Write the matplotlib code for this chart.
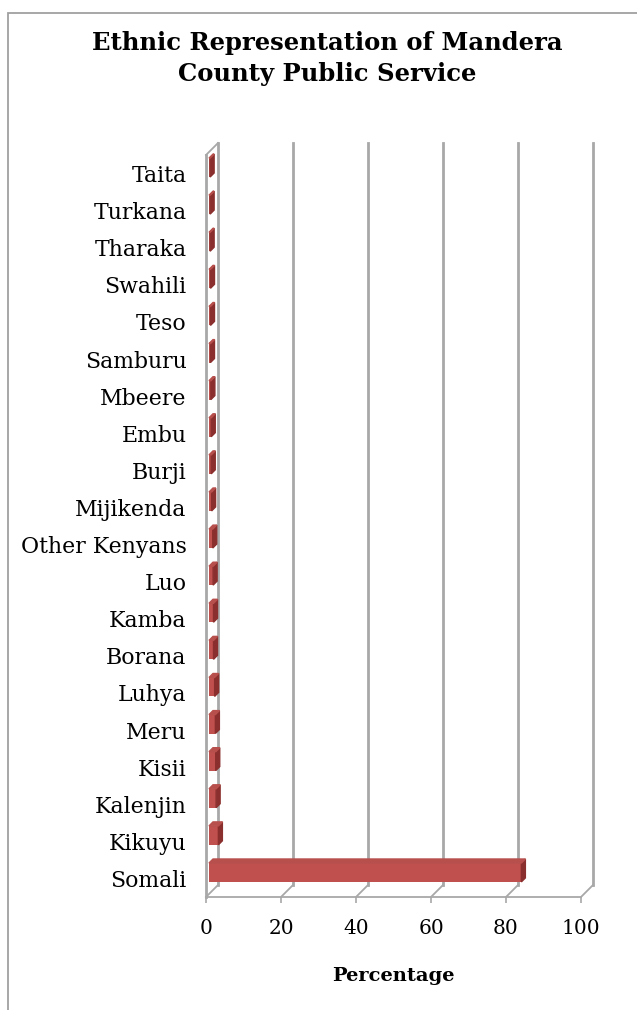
import numpy as np
import matplotlib
matplotlib.use("Agg")
import matplotlib.pyplot as plt
from matplotlib.patches import Polygon, Rectangle

# Data (percent of county public service staff), bottom to top
groups = ["Somali", "Kikuyu", "Kalenjin", "Kisii", "Meru", "Luhya", "Borana",
          "Kamba", "Luo", "Other Kenyans", "Mijikenda", "Burji", "Embu",
          "Mbeere", "Samburu", "Teso", "Swahili", "Tharaka", "Turkana", "Taita"]
share = [83.3, 2.5, 1.9, 1.8, 1.7, 1.5, 1.2, 1.2, 1.1, 1.0,
         0.7, 0.6, 0.6, 0.5, 0.4, 0.4, 0.4, 0.3, 0.3, 0.3]
x_ticks = [0, 20, 40, 60, 80, 100]

W, H, DPI = 637, 1010, 100
plt.rcParams['font.family'] = ['DejaVu Serif']

fig = plt.figure(figsize=(W / DPI, H / DPI), dpi=DPI)

# front plane of the 3D box in pixels
left_px, right_px, top_px, floor_px = 206, 581, 155, 897
ax = fig.add_axes([left_px / W, 1 - floor_px / H,
                   (right_px - left_px) / W, (floor_px - top_px) / H])
ax.set_xlim(0, 100)
ax.set_ylim(-0.5, len(groups) - 0.5)
for s in ax.spines.values():
    s.set_visible(False)

# pixel -> data unit helpers
ux = 100 / (right_px - left_px)
uy = len(groups) / (floor_px - top_px)

def dx(px):
    return px * ux

def dy(px):
    return px * uy

grid_col = "#A8A8A8"
depth = 12  # depth of the floor / wall in pixels
y0, y1 = -0.5, len(groups) - 0.5

# back wall gridlines + floor diagonals
for t in x_ticks:
    ax.plot([t + dx(depth)] * 2, [y0 + dy(depth), y1 + dy(depth)],
            color=grid_col, lw=2.0, clip_on=False, zorder=1)
    ax.plot([t, t + dx(depth)], [y0, y0 + dy(depth)],
            color=grid_col, lw=1.3, clip_on=False, zorder=1)

# left side wall
ax.plot([0, 0], [y0, y1], color=grid_col, lw=2.0, clip_on=False, zorder=1)
ax.plot([0, dx(depth)], [y1, y1 + dy(depth)], color=grid_col, lw=1.3,
        clip_on=False, zorder=1)
# front floor edge
ax.plot([0, 100], [y0, y0], color=grid_col, lw=1.3, clip_on=False, zorder=1)

# bars with a fake 3D look
pos = np.arange(len(groups))
bar_h = 0.51
ox, oy = dx(3), dy(6)
sx, sy = dx(4), dy(4)
front_col, side_col, top_col = "#C0504D", "#8A2F2D", "#B7504D"
ax.barh(pos + oy, share, left=ox, height=bar_h, color=front_col,
        zorder=3, clip_on=False)
for p, v in zip(pos, share):
    yb = p + oy - bar_h / 2
    yt = p + oy + bar_h / 2
    x1 = ox + v
    ax.add_patch(Polygon([(x1, yb), (x1, yt), (x1 + sx, yt + sy), (x1 + sx, yb + sy)],
                         closed=True, color=side_col, zorder=3, clip_on=False))
    ax.add_patch(Polygon([(ox, yt), (x1, yt), (x1 + sx, yt + sy), (ox + sx, yt + sy)],
                         closed=True, color=top_col, zorder=3, clip_on=False))

# axis labels
ax.set_yticks(pos)
ax.set_yticklabels(groups, fontsize=15.8)
ax.tick_params(axis='y', length=0, pad=14)
ax.set_xticks(x_ticks)
ax.set_xticklabels([str(t) for t in x_ticks], fontsize=14.5)
ax.tick_params(axis='x', length=4, color=grid_col, width=1.2, pad=12)
ax.set_xlabel("Percentage", fontsize=14, fontweight='bold', labelpad=21)

fig.text(327 / W, 1 - 31 / H, "Ethnic Representation of Mandera\nCounty Public Service",
         ha='center', va='top', fontsize=17.5, fontweight='bold', linespacing=1.35)

# chart frame (runs off the right and bottom edges)
fig.add_artist(Rectangle((8 / W, -0.1), 1.2, 1.1 - 13 / H, transform=fig.transFigure,
                         fill=False, edgecolor="#A0A0A0", lw=1.3))

fig.savefig("out.png", dpi=DPI)
